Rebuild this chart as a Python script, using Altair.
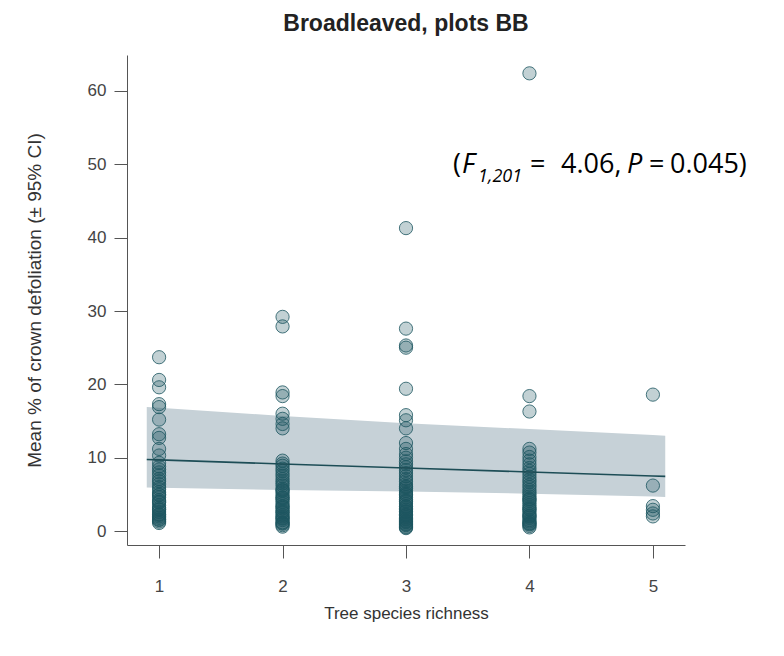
import altair as alt
import pandas as pd

# ---- data ----
richness_1 = [23.7, 20.6, 19.6, 17.3, 16.9, 15.2, 13.2, 12.7, 11.2, 10.3,
              9.3, 8.8, 8.4, 8.0, 7.6, 7.1, 6.8, 6.4, 6.0, 5.7, 5.3, 4.9, 4.6,
              4.2, 3.9, 3.5, 3.2, 2.9, 2.6, 2.3, 2.0, 1.8, 1.5, 1.3, 1.1,
              2.2, 3.0, 4.0, 5.0, 1.6]
richness_2 = [29.2, 27.9, 18.9, 18.4, 16.0, 15.3, 14.6, 14.0,
              9.6, 9.2, 8.9, 8.5, 8.2, 7.8, 7.5, 7.1, 6.8, 6.5, 6.2, 5.8, 5.5,
              5.2, 4.9, 4.6, 4.3, 4.0, 3.7, 3.4, 3.1, 2.8, 2.5, 2.2, 2.0, 1.7,
              1.5, 1.2, 1.0, 0.8, 0.6, 1.1, 1.8, 2.6, 3.3, 4.5, 5.6]
richness_3 = [41.3, 27.6, 25.3, 25.0, 19.4, 15.8, 15.1, 14.0,
              12.0, 11.2, 10.5, 10.0, 9.5, 9.1, 8.7, 8.3, 7.9, 7.5, 7.1, 6.8,
              6.4, 6.1, 5.8, 5.5, 5.2, 4.9, 4.6, 4.3, 4.0, 3.7, 3.4, 3.1, 2.9,
              2.6, 2.3, 2.1, 1.9, 1.6, 1.4, 1.2, 1.0, 0.8, 0.6, 0.4,
              0.5, 0.9, 1.3, 1.7, 2.2, 2.7, 3.3, 4.1, 5.0, 6.0]
richness_4 = [62.4, 18.4, 16.3, 11.2, 10.7, 10.1, 9.6, 9.1, 8.6,
              8.2, 7.8, 7.4, 7.0, 6.7, 6.3, 6.0, 5.6, 5.3, 5.0, 4.7, 4.4, 4.1,
              3.8, 3.5, 3.2, 2.9, 2.6, 2.3, 2.0, 1.8, 1.5, 1.3, 1.1, 0.9, 0.7,
              0.5, 1.0, 2.1, 3.0, 4.3]
richness_5 = [18.6, 6.2, 3.4, 2.9, 2.4, 2.0]

fit_x = [0.90, 1, 2, 3, 4, 5, 5.1]
fit_mean = [9.75, 9.7, 9.15, 8.6, 8.05, 7.5, 7.45]
fit_lower = [5.95, 5.9, 5.6, 5.4, 5.1, 4.7, 4.65]
fit_upper = [16.9, 16.8, 15.7, 14.7, 13.9, 13.1, 13.0]

x_ticks = [1, 2, 3, 4, 5]
y_ticks = [0, 10, 20, 30, 40, 50, 60]

rows = []
for r, vals in zip(x_ticks, [richness_1, richness_2, richness_3, richness_4, richness_5]):
    for v in vals:
        rows.append({"richness": r, "defol": v})
pts = pd.DataFrame(rows)
fit = pd.DataFrame({"x": fit_x, "mean": fit_mean, "lo": fit_lower, "hi": fit_upper})

W, H = 558, 490
xs = alt.Scale(domain=[0.74, 5.26], nice=False, zero=False)
ys = alt.Scale(domain=[-1.9, 64.9], nice=False, zero=False)

FONT = "Liberation Sans"
x_axis = alt.Axis(values=x_ticks, format="d", title="Tree species richness", grid=False,
                  tickSize=13, labelPadding=20, labelFontSize=17, labelColor="#444",
                  labelFont=FONT, domainColor="#555", tickColor="#555",
                  titleFont=FONT, titleFontSize=17, titleFontWeight="normal",
                  titleColor="#333", titleX=W / 2, titleY=68, titleBaseline="middle")
y_axis = alt.Axis(values=y_ticks, format="d",
                  title="Mean % of crown defoliation (\u00b1 95% CI)",
                  grid=False, tickSize=13, labelPadding=8, labelFontSize=17,
                  labelColor="#444", labelFont=FONT, domainColor="#555",
                  tickColor="#555", titleFont=FONT, titleFontSize=19,
                  titleFontWeight="normal", titleColor="#333", titleX=-93,
                  titleY=H / 2, titleAngle=-90, titleBaseline="middle",
                  titleAlign="center")

band = alt.Chart(fit).mark_area(color="#c6d1d7", opacity=1).encode(
    x=alt.X("x:Q", scale=xs, axis=x_axis),
    y=alt.Y("lo:Q", scale=ys, axis=y_axis),
    y2="hi:Q",
)
points = alt.Chart(pts).mark_circle(
    size=175, color="#1d5660", fillOpacity=0.27, stroke="#1d5660",
    strokeOpacity=0.8, strokeWidth=1
).encode(x=alt.X("richness:Q", scale=xs), y=alt.Y("defol:Q", scale=ys))
line = alt.Chart(fit).mark_line(color="#1d4d56", strokeWidth=1.6).encode(
    x=alt.X("x:Q", scale=xs), y=alt.Y("mean:Q", scale=ys))

# annotation "(F1,201 =  4.06, P = 0.045)" anchored at x=3, y=50
ann_anchor = pd.DataFrame({"x": [3.0], "y": [50.0]})
ANN_FONT = "Open Sans"
pieces = [
    ("(", 47, 8.5, "normal", 27),
    ("F", 56, 8.5, "italic", 27),
    ("1,201", 72, 17.5, "italic", 18),
    ("=", 124, 8.5, "normal", 27),
    ("4.06,", 155, 8.5, "normal", 27),
    ("P", 221, 8.5, "italic", 27),
    ("=", 243, 8.5, "normal", 27),
    ("0.045)", 264, 8.5, "normal", 27),
]
ann_layers = []
for txt, dx, dy, style, fs in pieces:
    ann_layers.append(
        alt.Chart(ann_anchor).mark_text(
            text=txt, align="left", baseline="alphabetic", dx=dx, dy=dy,
            font=ANN_FONT, fontSize=fs, fontStyle=style, color="#000"
        ).encode(x=alt.X("x:Q", scale=xs), y=alt.Y("y:Q", scale=ys))
    )

chart = alt.layer(band, points, line, *ann_layers).properties(
    width=W, height=H,
    background="white",
    title=alt.TitleParams("Broadleaved, plots BB", font=FONT, fontSize=23,
                          fontWeight="bold", color="#222", anchor="middle",
                          baseline="alphabetic", offset=1),
    autosize=alt.AutoSizeParams(type="none"),
    padding={"left": 119, "top": 47, "right": 91, "bottom": 103},
).configure_view(stroke=None)

chart.save("out.html", embed_options={"renderer": "svg", "actions": False})
